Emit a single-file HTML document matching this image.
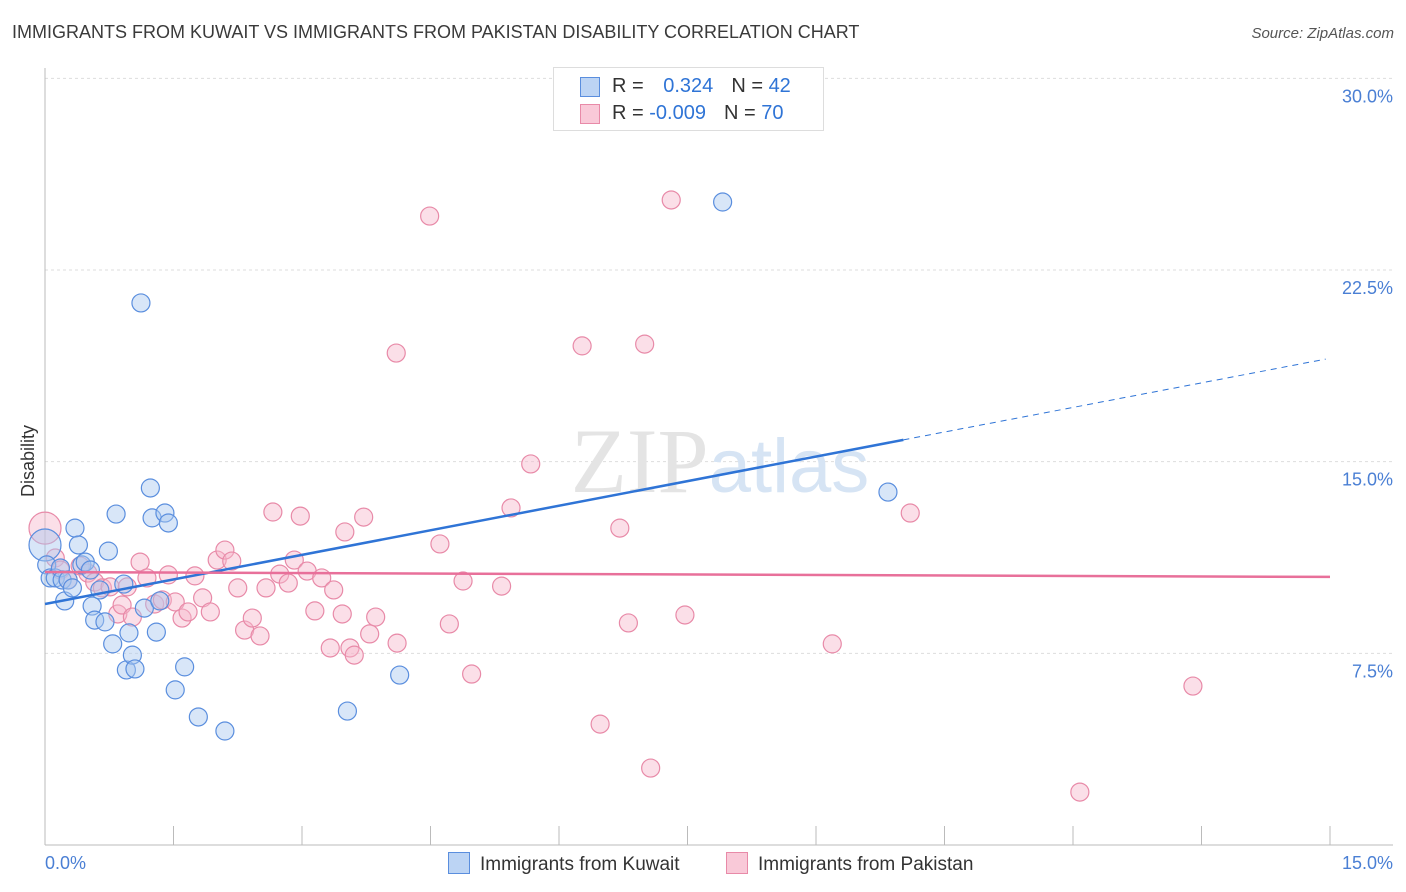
<!DOCTYPE html>
<html><head><meta charset="utf-8"><style>
body{margin:0;background:#fff;font-family:"Liberation Sans",sans-serif;}
#c{position:relative;width:1406px;height:892px;overflow:hidden}
.t{position:absolute;white-space:nowrap}
</style></head><body>
<div id="c">
<div class="t" style="left:12px;top:22px;font-size:18px;color:#3a3a3a">IMMIGRANTS FROM KUWAIT VS IMMIGRANTS FROM PAKISTAN DISABILITY CORRELATION CHART</div>
<div class="t" style="right:12px;top:25px;font-size:15px;color:#555;font-style:italic">Source: ZipAtlas.com</div>
<svg id="s" width="1406" height="892" style="position:absolute;left:0;top:0"></svg>
</div>
<script>
const xTicks=[0,1.5,3,4.5,6,7.5,9,10.5,12,13.5,15];
const yTicks=[7.5,15,22.5,30];
const yTickLabels=["7.5%","15.0%","22.5%","30.0%"];
const kuwaitX=[0,0.02,0.06,0.12,0.18,0.20,0.23,0.27,0.32,0.35,0.39,0.43,0.47,0.53,0.55,0.58,0.64,0.70,0.74,0.79,0.83,0.92,0.95,0.98,1.02,1.05,1.12,1.16,1.23,1.25,1.30,1.34,1.40,1.44,1.52,1.63,1.79,2.10,3.53,4.14,7.91,9.84];
const kuwaitY=[11.74,10.96,10.45,10.45,10.84,10.37,9.55,10.37,10.06,12.40,11.74,10.96,11.07,10.76,9.35,8.80,9.98,8.73,11.50,7.87,12.95,10.21,6.85,8.30,7.43,6.89,21.21,9.27,13.97,12.80,8.33,9.55,12.99,12.60,6.07,6.97,5.01,4.46,5.24,6.65,25.16,13.81];
const pakX=[0,0.12,0.18,0.27,0.41,0.50,0.58,0.67,0.76,0.85,0.90,0.96,1.02,1.11,1.19,1.28,1.37,1.44,1.52,1.60,1.67,1.75,1.84,1.93,2.01,2.10,2.18,2.25,2.33,2.42,2.51,2.58,2.66,2.74,2.84,2.91,2.98,3.06,3.15,3.23,3.33,3.37,3.47,3.50,3.56,3.61,3.72,3.79,3.86,4.10,4.11,4.49,4.61,4.72,4.88,4.98,5.33,5.44,5.67,6.27,6.48,6.71,6.81,7.00,7.07,7.31,7.47,9.19,10.10,12.08,13.40];
const pakY=[12.40,11.23,10.76,10.37,10.92,10.64,10.29,10.06,10.10,9.04,9.39,10.10,8.92,11.07,10.45,9.43,9.59,10.57,9.51,8.88,9.12,10.53,9.67,9.12,11.15,11.54,11.11,10.06,8.41,8.88,8.18,10.06,13.03,10.60,10.25,11.15,12.87,10.72,9.16,10.45,7.71,9.98,9.04,12.25,7.71,7.43,12.83,8.26,8.92,19.25,7.90,24.61,11.78,8.65,10.33,6.69,10.13,13.19,14.91,19.53,4.73,12.40,8.69,19.60,3.01,25.24,9.00,7.87,12.99,2.07,6.22];
const kuwaitTrend=[9.43,0.641];   // intercept, slope
const kuwaitTrendEnd=[10.02,14.95]; // solid end, dashed end
const pakTrend=[10.68,-0.0127];
const X=v=>45+v/15*1285, Y=v=>845-v/7.5*191.67;
const s=document.getElementById('s'),NS='http://www.w3.org/2000/svg';
function mk(t,a,p){const e=document.createElementNS(NS,t);for(const k in a)e.setAttribute(k,a[k]);(p||s).appendChild(e);return e;}
yTicks.forEach((v,i)=>{
 const g=mk('line',{x1:45,x2:1393,y1:Y(v),y2:Y(v),stroke:'#ddd','stroke-dasharray':'3,3'});
 
 
 const t=mk('text',{x:1393,y:Y(v)+24,'text-anchor':'end','font-size':18,fill:'#4a7fd4','font-family':'Liberation Sans'});
 t.textContent=yTickLabels[i];
 
 
});
let ax=mk('line',{x1:45,x2:45,y1:68,y2:845,stroke:'#bbb'});


ax=mk('line',{x1:45,x2:1393,y1:845,y2:845,stroke:'#bbb'});


xTicks.forEach(v=>{const l=mk('line',{x1:X(v),x2:X(v),y1:826,y2:845,stroke:'#bbb'});
 
 });
let w=mk('text',{x:720,y:492,'text-anchor':'middle','font-size':92,fill:'#e4e4e4','font-family':'Liberation Serif'});
w.innerHTML='ZIP<tspan fill="#d6e4f4" font-family="Liberation Sans" font-size="76">atlas</tspan>';


function dots(xs,ys,fill,stroke,name){xs.forEach((x,i)=>{const r=(i===0)?16:9;
 const c=mk('circle',{cx:X(x),cy:Y(ys[i]),r:r,fill:fill,stroke:stroke,'stroke-width':1.2,'fill-opacity':0.45});
 
 });}
dots(pakX,pakY,'#f7b8cc','#e88aa8','pakistan-point');
dots(kuwaitX,kuwaitY,'#a9c8f0','#5a8ede','kuwait-point');
const ky=x=>kuwaitTrend[0]+kuwaitTrend[1]*x;
let l=mk('line',{x1:X(0),y1:Y(ky(0)),x2:X(kuwaitTrendEnd[0]),y2:Y(ky(kuwaitTrendEnd[0])),stroke:'#2f74d6','stroke-width':2.5});


l=mk('line',{x1:X(kuwaitTrendEnd[0]),y1:Y(ky(kuwaitTrendEnd[0])),x2:X(kuwaitTrendEnd[1]),y2:Y(ky(kuwaitTrendEnd[1])),stroke:'#2f74d6','stroke-width':1,'stroke-dasharray':'6,5'});


const py=x=>pakTrend[0]+pakTrend[1]*x;
l=mk('line',{x1:X(0),y1:Y(py(0)),x2:X(15),y2:Y(py(15)),stroke:'#e8709a','stroke-width':2.5});


</script>
<div class="t" style="left:18px;top:497px;transform:rotate(-90deg);transform-origin:0 0;font-size:18px;color:#333">Disability</div>
<div class="t" style="left:45px;top:853px;font-size:18px;color:#4a7fd4">0.0%</div>
<div class="t" style="right:13px;top:853px;font-size:18px;color:#4a7fd4">15.0%</div>
<div class="t" style="left:553px;top:67px;width:269px;height:62px;border:1px solid #ddd;background:#fff;font-size:20px;color:#333">
 <div style="position:absolute;left:26px;top:9px;width:18px;height:18px;background:#bcd4f4;border:1px solid #5a8ede"></div>
 <div style="position:absolute;left:58px;top:7px">R = <span style="color:#2f74d6;margin-left:14px">0.324</span><span style="margin-left:18px">N =</span> <span style="color:#2f74d6">42</span></div>
 <div style="position:absolute;left:26px;top:36px;width:18px;height:18px;background:#f9c9d8;border:1px solid #e88aa8"></div>
 <div style="position:absolute;left:58px;top:34px">R = <span style="color:#2f74d6">-0.009</span><span style="margin-left:18px">N =</span> <span style="color:#2f74d6">70</span></div>
</div>
<div class="t" style="left:448px;top:852px;font-size:19px;color:#333"><span style="display:inline-block;width:20px;height:20px;background:#bcd4f4;border:1px solid #5a8ede;vertical-align:-4px;margin-right:10px"></span>Immigrants from Kuwait</div>
<div class="t" style="left:726px;top:852px;font-size:19px;color:#333"><span style="display:inline-block;width:20px;height:20px;background:#f9c9d8;border:1px solid #e88aa8;vertical-align:-4px;margin-right:10px"></span>Immigrants from Pakistan</div>
</body></html>
